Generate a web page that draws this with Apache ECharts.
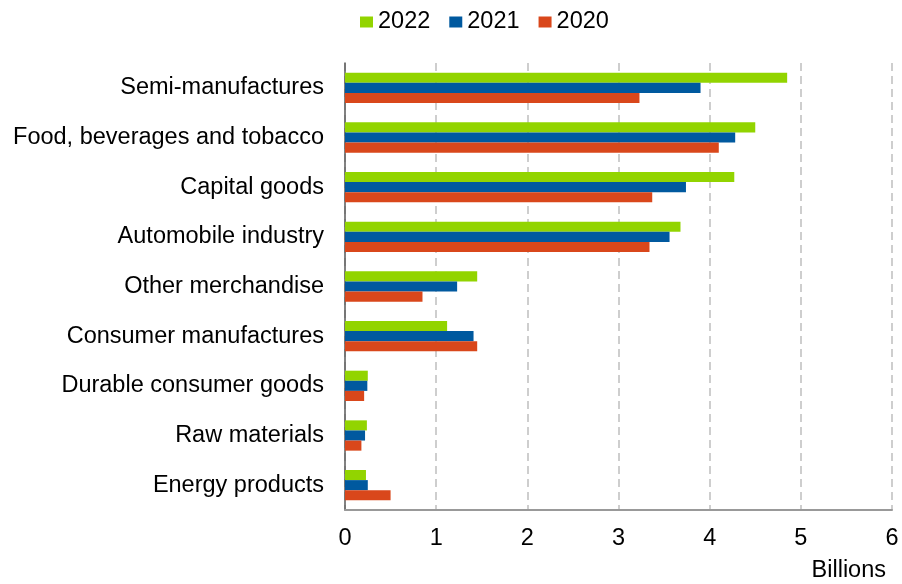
<!DOCTYPE html>
<html>
<head>
<meta charset="utf-8">
<script src="https://cdn.jsdelivr.net/npm/echarts@6/dist/echarts.min.js"></script>
<style>
  html, body { margin: 0; padding: 0; background: #fff; }
  #chart { width: 902px; height: 584px; }
</style>
</head>
<body>
<div id="chart"></div>
<script>
// Product groups, listed top to bottom
const categories = [
  'Semi-manufactures',
  'Food, beverages and tobacco',
  'Capital goods',
  'Automobile industry',
  'Other merchandise',
  'Consumer manufactures',
  'Durable consumer goods',
  'Raw materials',
  'Energy products'
];

// Values in billions, same order as categories
const values2022 = [4.85, 4.50, 4.27, 3.68, 1.45, 1.12, 0.25, 0.24, 0.23];
const values2021 = [3.90, 4.28, 3.74, 3.56, 1.23, 1.41, 0.245, 0.22, 0.25];
const values2020 = [3.23, 4.10, 3.37, 3.34, 0.85, 1.45, 0.21, 0.18, 0.50];

const xTicks = [0, 1, 2, 3, 4, 5, 6];
const unitLabel = 'Billions';

const FONT = '"Liberation Sans", Arial, sans-serif';
const FS = 23.5;
const chart = echarts.init(document.getElementById('chart'), null, { renderer: 'canvas' });

// Category axis runs bottom-up in ECharts, so reverse for top-down order
const cats = categories.slice().reverse();
const rev = a => a.slice().reverse();

chart.setOption({
  animation: false,
  backgroundColor: '#ffffff',
  textStyle: { fontFamily: FONT },
  legend: {
    top: 10,
    left: 360,
    padding: 0,
    itemWidth: 13,
    itemHeight: 11,
    itemGap: 19,
    icon: 'rect',
    textStyle: { fontSize: FS, color: '#000', fontFamily: FONT, padding: [2, 0, 0, 0] },
    data: ['2022', '2021', '2020']
  },
  grid: { left: 345, right: 10, top: 63, bottom: 74, containLabel: false },
  xAxis: {
    type: 'value',
    min: xTicks[0],
    max: xTicks[xTicks.length - 1],
    interval: 1,
    name: unitLabel,
    nameLocation: 'end',
    nameGap: 0,
    nameTextStyle: {
      fontSize: FS, color: '#000', fontFamily: FONT,
      align: 'right', verticalAlign: 'top', padding: [49, 6, 0, 0]
    },
    axisLine: { show: true, lineStyle: { color: '#999999', width: 2 } },
    axisTick: { show: false },
    axisLabel: { fontSize: FS, color: '#000', fontFamily: FONT, margin: 17 },
    splitLine: { show: true, lineStyle: { color: '#bfbfbf', type: [8, 5], width: 1.5 } }
  },
  yAxis: {
    type: 'category',
    data: cats,
    axisLine: { show: true, lineStyle: { color: '#595959', width: 1.5 } },
    axisTick: { show: false },
    axisLabel: { fontSize: FS, color: '#000', fontFamily: FONT, margin: 21, padding: [4, 0, 0, 0] },
    splitLine: { show: false }
  },
  series: [
    { name: '2022', type: 'bar', data: rev(values2022), itemStyle: { color: '#92d400' }, barGap: '0%', barCategoryGap: '39%' },
    { name: '2021', type: 'bar', data: rev(values2021), itemStyle: { color: '#00599f' }, barGap: '0%', barCategoryGap: '39%' },
    { name: '2020', type: 'bar', data: rev(values2020), itemStyle: { color: '#d9471b' }, barGap: '0%', barCategoryGap: '39%' }
  ]
});
</script>
</body>
</html>
